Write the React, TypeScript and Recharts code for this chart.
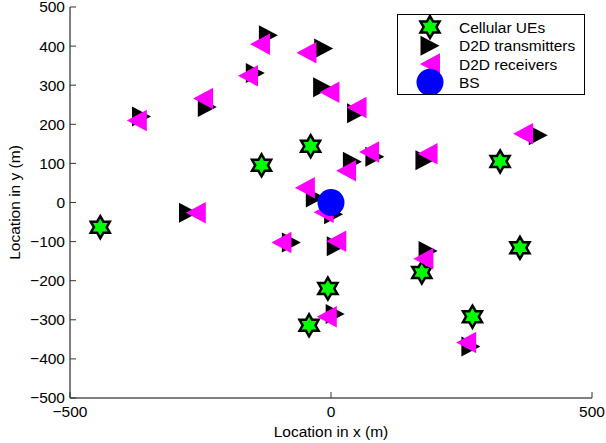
import { ScatterChart, Scatter, XAxis, YAxis } from 'recharts'

// cellular users (green hexagrams)
const ueX = [-442, -133, -39, 324, 362, 174, -6, -42, 271]
const ueY = [-63, 95, 144, 105, -116, -179, -220, -314, -292]

// D2D pairs, same order in both lists
const txX = [-363, -237, -145, -120, -14, -16, 49, 397, 41, 84, 180, -30, 5, -273, -76, 10, 186, 8, 268]
const txY = [220, 244, 331, 428, 394, 295, 228, 172, 104, 117, 108, 13, -30, -26, -102, -112, -124, -285, -368]
const rxX = [-372, -245, -159, -136, -47, -3, 49, 368, 29, 73, 185, -50, -14, -259, -95, 10, 177, -8, 259]
const rxY = [210, 266, 324, 405, 383, 282, 243, 176, 81, 129, 125, 38, -25, -26, -102, -99, -144, -292, -358]

const bsX = [0]
const bsY = [0]

const xTicks = [-500, 0, 500]
const yTicks = [-500, -400, -300, -200, -100, 0, 100, 200, 300, 400, 500]
const legendLabels = ['Cellular UEs', 'D2D transmitters', 'D2D receivers', 'BS']

const zip = (xs: number[], ys: number[]) => xs.map((x, i) => ({ x, y: ys[i] }))
const ueData = zip(ueX, ueY)
const txData = zip(txX, txY)
const rxData = zip(rxX, rxY)
const bsData = zip(bsX, bsY)

const FONT = '"Liberation Sans", Arial, Helvetica, sans-serif'
const FS = 15.5
const TICK = 6
const fmt = (v: number) => String(v).replace('-', '\u2212')

function Star({ cx, cy }: { cx: number; cy: number }) {
  const R = 11
  const r = R / Math.sqrt(3)
  const pts: string[] = []
  for (let i = 0; i < 12; i++) {
    const a = ((-90 + i * 30) * Math.PI) / 180
    const rad = i % 2 === 0 ? R : r
    pts.push(`${cx + rad * Math.cos(a)},${cy + rad * Math.sin(a)}`)
  }
  return <polygon points={pts.join(' ')} fill="#00FF00" stroke="#000" strokeWidth={2.5} strokeLinejoin="miter" />
}

function Tx({ cx, cy }: { cx: number; cy: number }) {
  const w = 19, h = 20
  return <polygon points={`${cx - w / 2},${cy - h / 2} ${cx + w / 2},${cy} ${cx - w / 2},${cy + h / 2}`} fill="#000" />
}

function Rx({ cx, cy }: { cx: number; cy: number }) {
  const w = 20, h = 21.5
  return <polygon points={`${cx + w / 2},${cy - h / 2} ${cx - w / 2},${cy} ${cx + w / 2},${cy + h / 2}`} fill="#FF00FF" />
}

function Bs({ cx, cy }: { cx: number; cy: number }) {
  return <circle cx={cx} cy={cy} r={13.5} fill="#0000FF" />
}

const BottomTick = (p: any) => (
  <g>
    <line x1={p.x} y1={p.y} x2={p.x} y2={p.y - TICK} stroke="#333" />
    <text x={p.x} y={p.y + 19} textAnchor="middle" fontSize={FS} fontFamily={FONT} fill="#000">
      {fmt(p.payload.value)}
    </text>
  </g>
)
const TopTick = (p: any) => <line x1={p.x} y1={p.y} x2={p.x} y2={p.y + TICK} stroke="#333" />
const LeftTick = (p: any) => (
  <g>
    <line x1={p.x} y1={p.y} x2={p.x + TICK} y2={p.y} stroke="#333" />
    <text x={p.x - 5} y={p.y} dy="0.35em" textAnchor="end" fontSize={FS} fontFamily={FONT} fill="#000">
      {fmt(p.payload.value)}
    </text>
  </g>
)
const RightTick = (p: any) => <line x1={p.x} y1={p.y} x2={p.x - TICK} y2={p.y} stroke="#333" />

const xLabel = (p: any) => {
  const vb = p.viewBox
  return (
    <text x={vb.x + vb.width / 2} y={vb.y + 39} textAnchor="middle" fontSize={FS} fontFamily={FONT} fill="#000">
      Location in x (m)
    </text>
  )
}
const yLabel = (p: any) => {
  const vb = p.viewBox
  const cx = vb.x + 20
  const cy = vb.y + vb.height / 2
  return (
    <text x={cx} y={cy} transform={`rotate(-90, ${cx}, ${cy})`} textAnchor="middle" fontSize={FS} fontFamily={FONT} fill="#000">
      Location in y (m)
    </text>
  )
}

function LegendBox() {
  const rows = [12, 30.7, 49, 67.3]
  const sx = 32
  return (
    <div
      style={{
        position: 'absolute', left: 397, top: 14, width: 188, height: 81,
        boxSizing: 'border-box', border: '1px solid #000', background: '#fff',
      }}
    >
      <svg width={186} height={79}>
        <Star cx={sx} cy={rows[0]} />
        <Tx cx={sx} cy={rows[1]} />
        <Rx cx={sx} cy={rows[2]} />
        <Bs cx={sx} cy={rows[3]} />
        {legendLabels.map((t, i) => (
          <text key={t} x={61} y={rows[i]} dy="0.36em" fontSize={FS} fontFamily={FONT} fill="#000">{t}</text>
        ))}
      </svg>
    </div>
  )
}

export default function App() {
  return (
    <div style={{ position: 'relative', width: 606, height: 443, background: '#fff' }}>
      <style>{'body{margin:0}'}</style>
      <ScatterChart width={606} height={443} margin={{ top: 7, right: 14, bottom: 0, left: 0 }}>
        <XAxis
          dataKey="x" type="number" domain={[-500, 500]} ticks={xTicks} interval={0}
          height={45} tickSize={0} tickMargin={0} tick={BottomTick}
          axisLine={{ stroke: '#000' }} label={xLabel}
        />
        <XAxis
          xAxisId="top" orientation="top" dataKey="x" type="number" domain={[-500, 500]} ticks={xTicks}
          interval={0} height={0} tickSize={0} tickMargin={0} tick={TopTick} axisLine={{ stroke: '#000' }}
        />
        <YAxis
          dataKey="y" type="number" domain={[-500, 500]} ticks={yTicks} interval={0}
          width={70} tickSize={0} tickMargin={0} tick={LeftTick}
          axisLine={{ stroke: '#000' }} label={yLabel}
        />
        <YAxis
          yAxisId="right" orientation="right" dataKey="y" type="number" domain={[-500, 500]} ticks={yTicks}
          interval={0} width={0} tickSize={0} tickMargin={0} tick={RightTick} axisLine={{ stroke: '#000' }}
        />
        <Scatter name="Cellular UEs" data={ueData} isAnimationActive={false} shape={(p: any) => <Star cx={p.cx} cy={p.cy} />} />
        <Scatter name="D2D transmitters" data={txData} isAnimationActive={false} shape={(p: any) => <Tx cx={p.cx} cy={p.cy} />} />
        <Scatter name="D2D receivers" data={rxData} isAnimationActive={false} shape={(p: any) => <Rx cx={p.cx} cy={p.cy} />} />
        <Scatter name="BS" data={bsData} isAnimationActive={false} shape={(p: any) => <Bs cx={p.cx} cy={p.cy} />} />
      </ScatterChart>
      <LegendBox />
    </div>
  )
}
